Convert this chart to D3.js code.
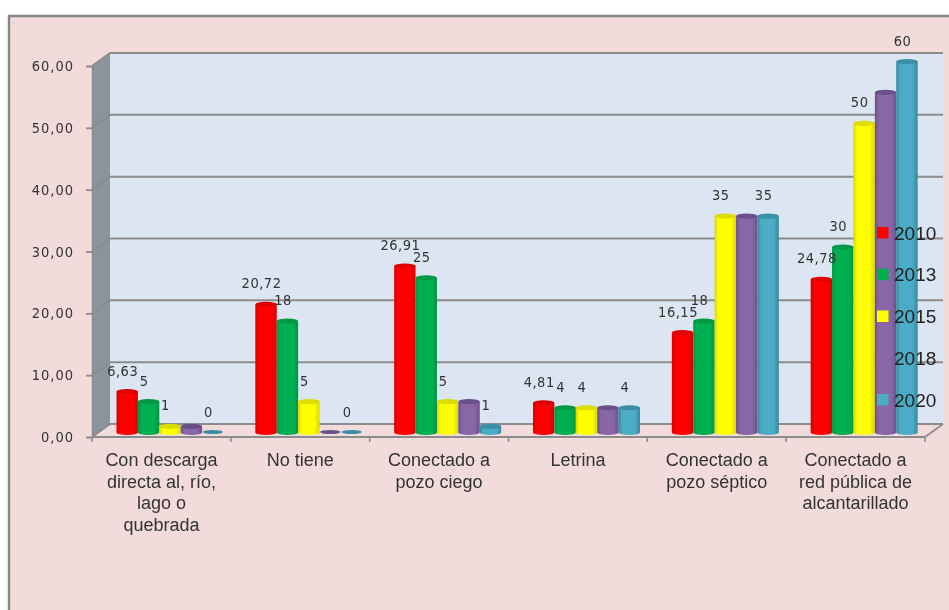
<!DOCTYPE html>
<html><head><meta charset="utf-8">
<script src="https://cdn.jsdelivr.net/npm/d3@7"></script>
<style>html,body{margin:0;padding:0;background:#fff}svg{display:block;filter:blur(0.4px)}</style>
</head><body><div id="c"></div>
<script>
const categories=[["Con descarga","directa al, río,","lago o","quebrada"],["No tiene"],["Conectado a","pozo ciego"],["Letrina"],["Conectado a","pozo séptico"],["Conectado a","red pública de","alcantarillado"]];
const years=["2010","2013","2015","2018","2020"];
const v2010=[6.63,20.72,26.91,4.81,16.15,24.78];
const v2013=[5,18,25,4,18,30];
const v2015=[1,5,5,4,35,50];
const v2018=[1,0,5,4,35,55];
const v2020=[0,0,1,4,35,60];
const labels2010=["6,63","20,72","26,91","4,81","16,15","24,78"];
const labels2013=["5","18","25","4","18","30"];
const labels2015=["1","5","5","4","35","50"];
const labels2020=["0","0","1","4","35","60"];
const yTicks=[0,10,20,30,40,50,60];
const colors=["#ff0000","#00b050","#ffff00","#8866a8","#4bacc6"];
const edges=["#d80000","#009544","#d8d800","#6c5288","#37889e"];
const tops=["#e00000","#009a46","#dcdc00","#6a5088","#3a8ea6"];

const W=949,H=610;
const svg=d3.select("#c").append("svg").attr("width",W).attr("height",H);
const defs=svg.append("defs");
colors.forEach((c,i)=>{
  const g=defs.append("linearGradient").attr("id","g"+i);
  g.append("stop").attr("offset","0%").attr("stop-color",edges[i]);
  g.append("stop").attr("offset","18%").attr("stop-color",c);
  g.append("stop").attr("offset","76%").attr("stop-color",c);
  g.append("stop").attr("offset","100%").attr("stop-color",edges[i]);
});
svg.append("rect").attr("x",9).attr("y",16).attr("width",W-9).attr("height",H-16).attr("fill","#f2dcdb");
svg.append("path").attr("d",`M9,${H}V16H${W}`).attr("fill","none").attr("stroke","#868686").attr("stroke-width",2.4);

const x0=92,x1=925,yBase=437,yTop=66,dx=18,dy=13;
const y=d3.scaleLinear().domain([0,60]).range([yBase,yTop]);
const xCat=d3.scaleBand().domain(d3.range(6)).range([x0,x1]);
const grid="#8c8c8c";

svg.append("rect").attr("x",x0+dx).attr("y",yTop-dy).attr("width",x1-x0).attr("height",yBase-yTop).attr("fill","#dce6f2");
svg.append("path").attr("d",`M${x0},${yTop}L${x0+dx},${yTop-dy}V${yBase-dy}L${x0},${yBase}Z`).attr("fill","#8a949c");
svg.append("path").attr("d",`M${x0},${yBase}L${x0+dx},${yBase-dy}H${x1+dx}L${x1},${yBase}Z`).attr("fill","#f2dcdb");
yTicks.forEach(t=>{
  svg.append("path").attr("d",`M${x0},${y(t)}L${x0+dx},${y(t)-dy}H${x1+dx}`).attr("fill","none").attr("stroke",grid).attr("stroke-width",2);
});
svg.append("line").attr("x1",x0).attr("x2",x1).attr("y1",yBase).attr("y2",yBase).attr("stroke",grid).attr("stroke-width",2.2);
svg.append("line").attr("x1",x1).attr("x2",x1+dx).attr("y1",yBase).attr("y2",yBase-dy).attr("stroke",grid).attr("stroke-width",2);

const numFont="'DejaVu Sans Condensed','DejaVu Sans'";
const ya=svg.append("g").attr("transform",`translate(${x0},0)`)
  .call(d3.axisLeft(y).tickValues(yTicks).tickSize(6).tickPadding(12).tickFormat(d=>d3.format(".2f")(d).replace(".",",")));
ya.select(".domain").attr("stroke",grid).attr("stroke-width",1.5);
ya.selectAll(".tick line").attr("stroke",grid).attr("stroke-width",1.8);
ya.selectAll("text").attr("font-family",numFont).attr("font-size",14.5).attr("fill","#333").attr("letter-spacing",1);
const xa=svg.append("g").attr("transform",`translate(0,${yBase})`);
d3.range(7).forEach(i=>{
  const px=x0+i*xCat.step();
  xa.append("line").attr("x1",px).attr("x2",px).attr("y1",0).attr("y2",5).attr("stroke",grid).attr("stroke-width",1.6);
});
categories.forEach((lines,i)=>{
  const t=svg.append("text").attr("font-family","Liberation Sans").attr("font-size",18).attr("fill","#333").attr("text-anchor","middle");
  lines.forEach((l,j)=>t.append("tspan").attr("x",xCat(i)+xCat.bandwidth()/2).attr("y",466+j*21.5).text(l));
});

const series=[v2010,v2013,v2015,v2018,v2020];
const xIn=d3.scaleBand().domain(d3.range(5)).range([116.5,116.5+107]);
const bw=xIn.bandwidth(),ry=2.6,baseY=432.5;
const h=d=>y(0)-y(d);
for(let c=0;c<6;c++){
  for(let s=0;s<5;s++){
    const v=series[s][c];
    const xl=xIn(s)+c*xCat.step(),yT=baseY-h(v);
    const g=svg.append("g");
    if(v===0){
      g.append("ellipse").attr("cx",xl+bw/2).attr("cy",baseY-0.5).attr("rx",bw/2-0.5).attr("ry",2).attr("fill",tops[s]);
      continue;
    }
    g.append("path").attr("d",`M${xl},${yT}V${baseY}A${bw/2},${ry} 0 0 0 ${xl+bw},${baseY}V${yT}Z`).attr("fill",`url(#g${s})`);
    g.append("ellipse").attr("cx",xl+bw/2).attr("cy",yT).attr("rx",bw/2).attr("ry",ry).attr("fill",tops[s]);
  }
}
const labelSets=[[0,labels2010],[1,labels2013],[2,labels2015],[4,labels2020]];
labelSets.forEach(([s,ls])=>{
  ls.forEach((t,c)=>{
    svg.append("text").attr("x",xIn(s)+c*xCat.step()+bw/2-4.5).attr("y",baseY-h(series[s][c])-16)
      .attr("font-family",numFont).attr("font-size",14.5).attr("letter-spacing",0.5).attr("fill","#333").attr("text-anchor","middle").text(t);
  });
});
const ly=d3.scalePoint().domain(years).range([233,400]);
years.forEach((yr,i)=>{
  svg.append("rect").attr("x",877).attr("y",ly(yr)-6).attr("width",11.5).attr("height",11.5).attr("fill",colors[i]);
  svg.append("text").attr("x",894).attr("y",ly(yr)+6.5).attr("font-family","Liberation Sans").attr("font-size",19).attr("fill","#222").text(yr);
});
</script></body></html>
